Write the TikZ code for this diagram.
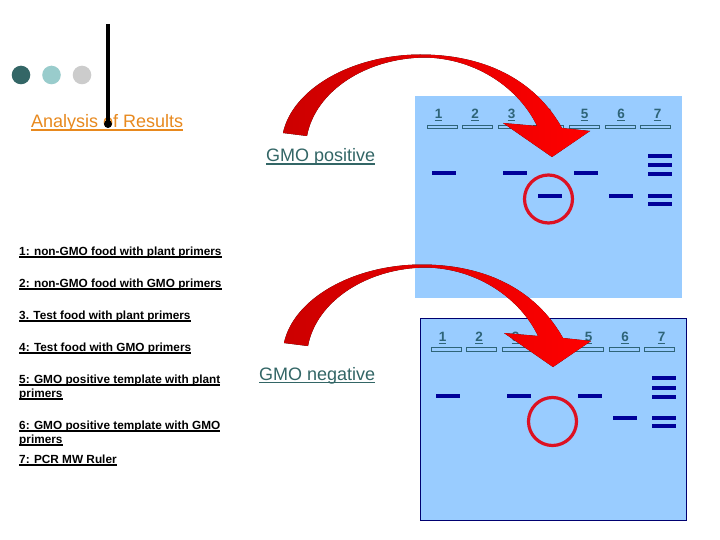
\documentclass[tikz,border=0pt]{standalone}
\usepackage{fontspec}
\setmainfont{Liberation Sans}
\definecolor{gelblue}{HTML}{99CCFF}
\definecolor{bandblue}{HTML}{000099}
\definecolor{gelborder}{HTML}{000070}
\definecolor{dteal}{HTML}{336666}
\definecolor{lteal}{HTML}{99CCCC}
\definecolor{lgrey}{HTML}{CCCCCC}
\definecolor{orangetxt}{HTML}{E8891E}
\definecolor{labteal}{HTML}{2E6478}
\definecolor{circred}{HTML}{DD1122}
\definecolor{darrow}{HTML}{CC0000}
\definecolor{barrow}{HTML}{FF0000}
\newcommand\ultext[6]{%
  \node[txt,text=#4,font=#3] (#1) at (#2) {#5};
  \draw[#4,line width=#6] ([yshift=-2.2pt]#1.base west) -- ([yshift=-2.2pt]#1.base east);}
\begin{document}
\begin{tikzpicture}[x=1pt,y=-1pt,
  txt/.style={inner sep=0pt, anchor=base west},
  lanelab/.style={inner sep=0pt, anchor=base, text=labteal, font=\fontsize{13.5}{15}\selectfont\bfseries},
  wellst/.style={draw=labteal, line width=0.9pt},
  circst/.style={draw=circred, line width=3.2pt},
  arrowst/.style={left color=darrow, right color=barrow, draw=none},
  listfont/.style={font=\fontsize{11.8}{14}\selectfont\bfseries}]
\useasboundingbox (0,0) rectangle (720,540);
\fill[white] (0,0) rectangle (720,540);
% decorative dots and bar
\fill[dteal] (21,75) circle (9.3pt);
\fill[lteal] (51.5,75) circle (9.3pt);
\fill[lgrey] (82,75) circle (9.3pt);
% title
\ultext{ana}{31,128}{\fontsize{18}{20}\selectfont}{orangetxt}{Analysis of Results}{1.5pt}
\draw[line width=4pt] (108,24) -- (108,124);
\fill (108,124) circle (4pt);
% gels
\fill[gelblue] (415,96) rectangle (682,298);
\draw[fill=gelblue, draw=gelborder, line width=0.9pt] (420,318) rectangle (686,520);
% wells
\foreach \i in {0,...,6} {
  \draw[wellst] ({427+35.6*\i},125) rectangle ++(30,3.7);
  \draw[wellst] ({431+35.6*\i},347.5) rectangle ++(30,3.7);
}
% lane labels
\foreach \i in {1,...,7} {
  \node[lanelab] (t\i) at ({438.5+36.5*(\i-1)},118.8) {\i};
  \draw[labteal, line width=1pt] ([yshift=-2pt]t\i.base west) -- ([yshift=-2pt]t\i.base east);
  \node[lanelab] (b\i) at ({442.5+36.5*(\i-1)},341.5) {\i};
  \draw[labteal, line width=1pt] ([yshift=-2pt]b\i.base west) -- ([yshift=-2pt]b\i.base east);
}
% bands
\foreach \x/\y in {444/173, 514.5/173, 585.5/173, 550/196, 621/196, 660/156, 660/165, 660/174.3, 660/196, 660/204,
                   448/396, 519/396, 590/396, 625/418, 664/378, 664/387.7, 664/396.7, 664/418.3, 664/426}
  \fill[bandblue] ({\x-12},{\y-2}) rectangle ({\x+12},{\y+2});
% circles
\draw[circst] (548.5,199) circle (24pt);
\draw[circst] (552.5,421.5) circle (24pt);
% GMO labels
\ultext{pos}{266,162}{\fontsize{18}{20}\selectfont}{dteal}{GMO positive}{1.4pt}
\ultext{neg}{259,380}{\fontsize{18}{20}\selectfont}{dteal}{GMO negative}{1.4pt}
% list
\foreach \n/\yy/\t in {l1/255/{1: non-GMO food with plant primers},
                       l2/287/{2: non-GMO food with GMO primers},
                       l3/319/{3. Test food with plant primers},
                       l4/351/{4: Test food with GMO primers},
                       l5/383/{5: GMO positive template with plant},
                       l5b/397/{primers},
                       l6/429/{6: GMO positive template with GMO},
                       l6b/443/{primers},
                       l7/463/{7: PCR MW Ruler}} {
  \node[txt, listfont] (\n) at (19,\yy) {\t};
  \draw[line width=1.1pt] ([yshift=-2pt]\n.base west) -- ([yshift=-2pt]\n.base east);
}
% curved arrows
\foreach \dx/\dy in {0/0, 1/210}
  \fill[arrowst, shift={(\dx,\dy)}]
    (283,133) .. controls (292,90) and (350,55) .. (420,54.5)
    .. controls (485,54.5) and (535,80) .. (562,128)
    -- (590,131) -- (552,157) -- (503,123) -- (537,126)
    .. controls (520,90) and (478,58.5) .. (425,57.5)
    .. controls (365,58) and (315,92) .. (307,136) -- cycle;
\end{tikzpicture}
\end{document}
